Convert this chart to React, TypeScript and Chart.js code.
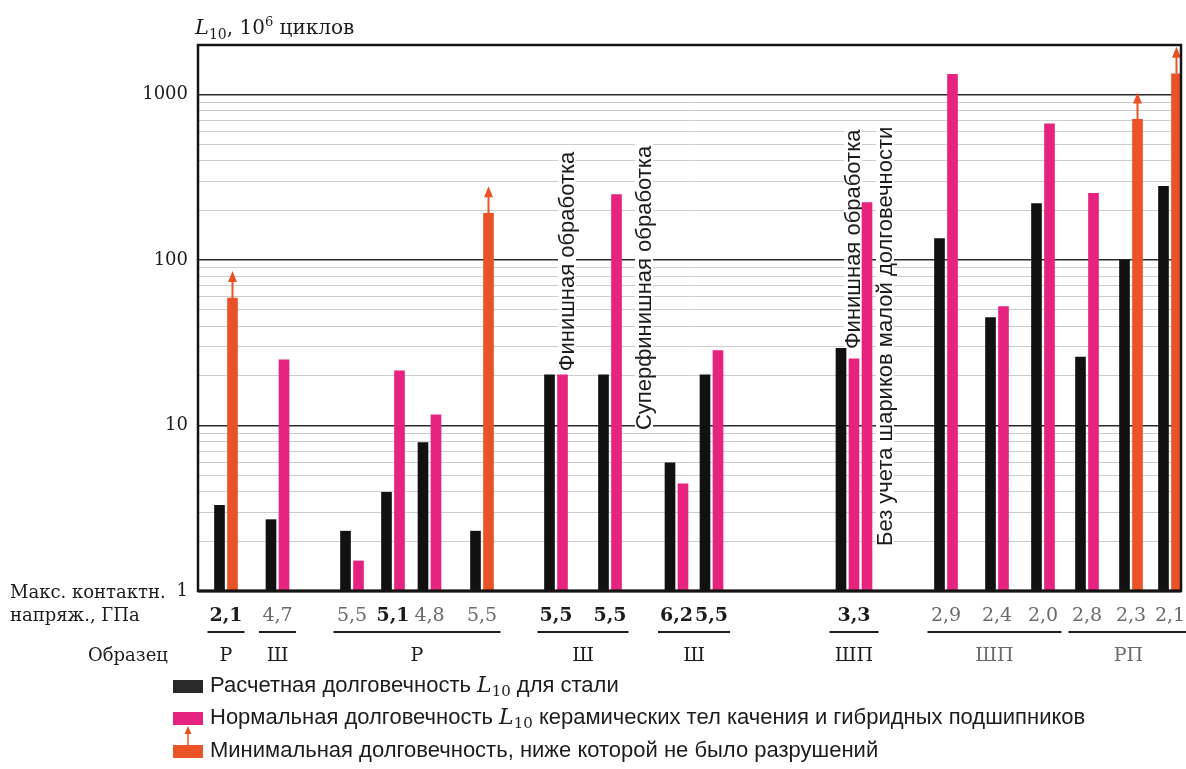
import React, { useEffect, useRef } from 'react';
import { Chart, registerables } from 'chart.js';

Chart.register(...registerables);

// ---------- data ----------
// Maximum contact stress of every specimen, GPa, left to right
const specimenStress = ['2,1', '4,7', '5,5', '5,1', '4,8', '5,5', '5,5', '5,5', '6,2', '5,5', '3,3', '2,9', '2,4', '2,0', '2,8', '2,3', '2,1'];
// Calculated L10 life for steel, 10^6 cycles
const steelL10 = [3.3, 2.7, 2.3, 3.95, 7.9, 2.3, 20.3, 20.3, 5.95, 20.3, 29.3, 135, 45, 220, 26, 100, 280];
// Normal L10 life of ceramic rolling elements / hybrid bearings
const ceramicL10: (number | null)[] = [null, 25, 1.52, 21.4, 11.6, null, 20.3, 249, 4.45, 28.4, 25.3, 1330, 52.5, 667, 254, null, null];
// Same, excluding the short-life balls
const ceramicL10NoShortLifeBalls: (number | null)[] = [null, null, null, null, null, null, null, null, null, null, 223, null, null, null, null, null, null];
// Minimum life below which no failures occurred
const minimumL10: (number | null)[] = [59, null, null, null, null, 192, null, null, null, null, null, null, null, null, null, 710, 1340];

const groupNames = ['Р', 'Ш', 'Р', 'Ш', 'Ш', 'ШП', 'ШП', 'РП'];
const groupSizes = [1, 1, 4, 2, 2, 1, 3, 3];
const yTickLabels = [1, 10, 100, 1000];
const noteTexts = ['Финишная обработка', 'Суперфинишная обработка', 'Финишная обработка', 'Без учета шариков малой долговечности'];
const legendTexts = [
  ['Расчетная долговечность ', ' для стали'],
  ['Нормальная долговечность ', ' керамических тел качения и гибридных подшипников'],
  ['Минимальная долговечность, ниже которой не было разрушений'],
];

// ---------- layout & style ----------
const X_MAX = 983;
const BAR_PITCH = 13;
const specimenPos = [28, 79.5, 154, 195, 231.5, 284, 358, 412, 478.5, 513.5, 656, 748, 799, 845, 889, 933, 972];
const emphasisedSpecimen = [true, false, false, true, false, false, true, true, true, true, true, false, false, false, false, false, false];
const emphasisedGroup = [true, true, true, true, true, true, false, false];
const noteAnchors = [
  { x: 369, y: 21.3 },
  { x: 446, y: 9.4 },
  { x: 655, y: 29 },
  { x: 687, y: 1.87 },
];

const COLORS = {
  steel: '#111111',
  ceramic: '#e6247f',
  minimum: '#ea5327',
  frame: '#141414',
  majorGrid: '#2a2a2a',
  minorGrid: '#cdcdcd',
  text: '#1c1c1c',
  muted: '#6a6a6a',
};
const SERIF = '"DejaVu Serif", serif';
const SANS = '"Liberation Sans", Arial, sans-serif';

type Pt = { x: number; y: number };
const steelPts: Pt[] = [];
const ceramicPts: Pt[] = [];
const minimumPts: Pt[] = [];
const barsPerSpecimen: number[] = [];

specimenStress.forEach((_, i) => {
  const bars: [Pt[], number][] = [[steelPts, steelL10[i]]];
  if (ceramicL10[i] != null) bars.push([ceramicPts, ceramicL10[i] as number]);
  if (minimumL10[i] != null) bars.push([minimumPts, minimumL10[i] as number]);
  if (ceramicL10NoShortLifeBalls[i] != null) bars.push([ceramicPts, ceramicL10NoShortLifeBalls[i] as number]);
  barsPerSpecimen.push(bars.length);
  bars.forEach(([arr, v], k) => arr.push({ x: specimenPos[i] + (k - (bars.length - 1) / 2) * BAR_PITCH, y: v }));
});

const logTicks: number[] = [];
for (let p = 0; p <= 3; p++) {
  for (let m = 1; m <= 9; m++) {
    const v = m * Math.pow(10, p);
    if (v <= 2000) logTicks.push(v);
  }
}

type Part = { text: string; font: string; dy?: number };
function drawRich(ctx: CanvasRenderingContext2D, parts: Part[], x: number, y: number) {
  let cx = x;
  parts.forEach((p) => {
    ctx.font = p.font;
    ctx.fillText(p.text, cx, y + (p.dy || 0));
    cx += ctx.measureText(p.text).width;
  });
}

const decorations = {
  id: 'decorations',
  beforeDatasetsDraw(chart: any) {
    const { ctx, scales } = chart;
    ctx.save();
    ctx.font = `22px ${SANS}`;
    noteTexts.forEach((t, i) => {
      const cx = scales.x.getPixelForValue(noteAnchors[i].x);
      const by = scales.y.getPixelForValue(noteAnchors[i].y);
      const w = ctx.measureText(t).width;
      ctx.fillStyle = '#ffffff';
      ctx.fillRect(cx - 9, by - w - 3, 18, w + 3);
      ctx.save();
      ctx.translate(cx, by);
      ctx.rotate(-Math.PI / 2);
      ctx.fillStyle = COLORS.text;
      ctx.textAlign = 'left';
      ctx.textBaseline = 'middle';
      ctx.fillText(t, 0, 1);
      ctx.restore();
    });
    ctx.restore();
  },
  afterDatasetsDraw(chart: any) {
    const { ctx, chartArea: a } = chart;
    ctx.save();
    // arrows on the minimum-life bars
    const meta = chart.getDatasetMeta(2);
    ctx.strokeStyle = COLORS.minimum;
    ctx.fillStyle = COLORS.minimum;
    meta.data.forEach((el: any) => {
      const x = el.x;
      const top = el.y;
      ctx.lineWidth = 2;
      ctx.beginPath();
      ctx.moveTo(x, top);
      ctx.lineTo(x, top - 18);
      ctx.stroke();
      ctx.beginPath();
      ctx.moveTo(x, top - 27);
      ctx.lineTo(x - 4.5, top - 16);
      ctx.lineTo(x + 4.5, top - 16);
      ctx.closePath();
      ctx.fill();
    });
    // plot frame
    ctx.strokeStyle = COLORS.frame;
    ctx.lineWidth = 2.5;
    ctx.strokeRect(a.left, a.top, a.right - a.left, a.bottom - a.top);
    ctx.lineWidth = 3;
    ctx.beginPath();
    ctx.moveTo(a.left, a.bottom);
    ctx.lineTo(a.right, a.bottom);
    ctx.stroke();
    ctx.restore();
  },
  afterDraw(chart: any) {
    const { ctx, scales } = chart;
    const xs = scales.x;
    ctx.save();
    ctx.fillStyle = COLORS.text;
    ctx.textBaseline = 'alphabetic';
    ctx.textAlign = 'left';

    // y axis title
    drawRich(ctx, [
      { text: 'L', font: `italic 21px ${SERIF}` },
      { text: '10', font: `14px ${SERIF}`, dy: 5 },
      { text: ', 10', font: `20px ${SERIF}` },
      { text: '6', font: `13px ${SERIF}`, dy: -8 },
      { text: ' циклов', font: `20px ${SERIF}` },
    ], 195, 34);

    // row captions
    ctx.textBaseline = 'middle';
    ctx.font = `18px ${SERIF}`;
    ctx.fillText('Макс. контактн.', 10, 593);
    ctx.fillText('напряж., ГПа', 10, 616);
    ctx.fillText('Образец', 88, 656);

    // stress values
    ctx.textAlign = 'center';
    specimenStress.forEach((s, i) => {
      const on = emphasisedSpecimen[i];
      ctx.font = `${on ? 'bold ' : ''}19px ${SERIF}`;
      ctx.fillStyle = on ? COLORS.text : COLORS.muted;
      ctx.fillText(s, xs.getPixelForValue(specimenPos[i]), 616);
    });

    // group underlines and names
    let start = 0;
    groupSizes.forEach((n, g) => {
      const first = start;
      const last = start + n - 1;
      const x0 = xs.getPixelForValue(specimenPos[first]) - (6.5 + barsPerSpecimen[first] * 6);
      const x1 = xs.getPixelForValue(specimenPos[last]) + (6.5 + barsPerSpecimen[last] * 6);
      ctx.strokeStyle = COLORS.text;
      ctx.lineWidth = 2;
      ctx.beginPath();
      ctx.moveTo(x0, 632);
      ctx.lineTo(x1, 632);
      ctx.stroke();
      ctx.font = `19px ${SERIF}`;
      ctx.fillStyle = emphasisedGroup[g] ? COLORS.text : COLORS.muted;
      ctx.fillText(groupNames[g], (x0 + x1) / 2, 656);
      start += n;
    });

    // legend
    const swatches = [COLORS.steel, COLORS.ceramic, COLORS.minimum];
    const rowsY = [686, 718, 751];
    swatches.forEach((c, i) => {
      ctx.fillStyle = i === 0 ? '#2a2a2a' : c;
      ctx.fillRect(173, rowsY[i] - 6, 30, 13);
    });
    ctx.strokeStyle = COLORS.minimum;
    ctx.fillStyle = COLORS.minimum;
    ctx.lineWidth = 1.5;
    ctx.beginPath();
    ctx.moveTo(188, rowsY[2] - 6);
    ctx.lineTo(188, rowsY[1] + 14);
    ctx.stroke();
    ctx.beginPath();
    ctx.moveTo(188, rowsY[1] + 8);
    ctx.lineTo(184.5, rowsY[1] + 16);
    ctx.lineTo(191.5, rowsY[1] + 16);
    ctx.closePath();
    ctx.fill();

    ctx.textAlign = 'left';
    ctx.textBaseline = 'middle';
    ctx.fillStyle = COLORS.text;
    legendTexts.forEach((t, i) => {
      const parts: Part[] = [{ text: t[0], font: `22px ${SANS}` }];
      if (t.length > 1) {
        parts.push({ text: 'L', font: `italic 22px ${SERIF}` });
        parts.push({ text: '10', font: `15px ${SERIF}`, dy: 6 });
        parts.push({ text: t[1], font: `22px ${SANS}` });
      }
      drawRich(ctx, parts, 210, rowsY[i]);
    });
    ctx.restore();
  },
};

export default function App() {
  const ref = useRef<HTMLCanvasElement>(null);

  useEffect(() => {
    const barDefaults = { grouped: false, barThickness: 10, borderWidth: 0 };
    const chart = new Chart(ref.current as HTMLCanvasElement, {
      type: 'bar',
      data: {
        datasets: [
          { label: 'Расчетная долговечность L10 для стали', data: steelPts, backgroundColor: COLORS.steel, ...barDefaults },
          { label: 'Нормальная долговечность L10 керамических тел качения и гибридных подшипников', data: ceramicPts, backgroundColor: COLORS.ceramic, ...barDefaults },
          { label: 'Минимальная долговечность, ниже которой не было разрушений', data: minimumPts, backgroundColor: COLORS.minimum, ...barDefaults },
        ],
      } as any,
      options: {
        animation: false,
        responsive: false,
        devicePixelRatio: 1,
        layout: { padding: { left: 0, top: 45, right: 5, bottom: 178 } },
        plugins: { legend: { display: false }, tooltip: { enabled: false } },
        scales: {
          x: { type: 'linear', min: 0, max: X_MAX, display: false, offset: false },
          y: {
            type: 'logarithmic',
            min: 1,
            max: 2000,
            afterFit: (s: any) => {
              s.width = 198;
            },
            afterBuildTicks: (s: any) => {
              s.ticks = logTicks.map((v) => ({ value: v }));
            },
            border: { display: false },
            grid: {
              drawTicks: false,
              color: (c: any) => (yTickLabels.includes(c.tick?.value) ? COLORS.majorGrid : COLORS.minorGrid),
              lineWidth: (c: any) => (yTickLabels.includes(c.tick?.value) ? 1.6 : 1),
            },
            ticks: {
              autoSkip: false,
              padding: 10,
              color: COLORS.text,
              font: { family: '"DejaVu Serif", serif', size: 18 },
              callback: (v: any) => (yTickLabels.includes(Number(v)) ? String(v) : ''),
            },
          },
        },
      } as any,
      plugins: [decorations as any],
    });
    return () => chart.destroy();
  }, []);

  return (
    <div style={{ position: 'fixed', left: 0, top: 0, width: 1186, height: 769, background: '#ffffff' }}>
      <canvas ref={ref} width={1186} height={769} style={{ display: 'block', width: 1186, height: 769 }} />
    </div>
  );
}
